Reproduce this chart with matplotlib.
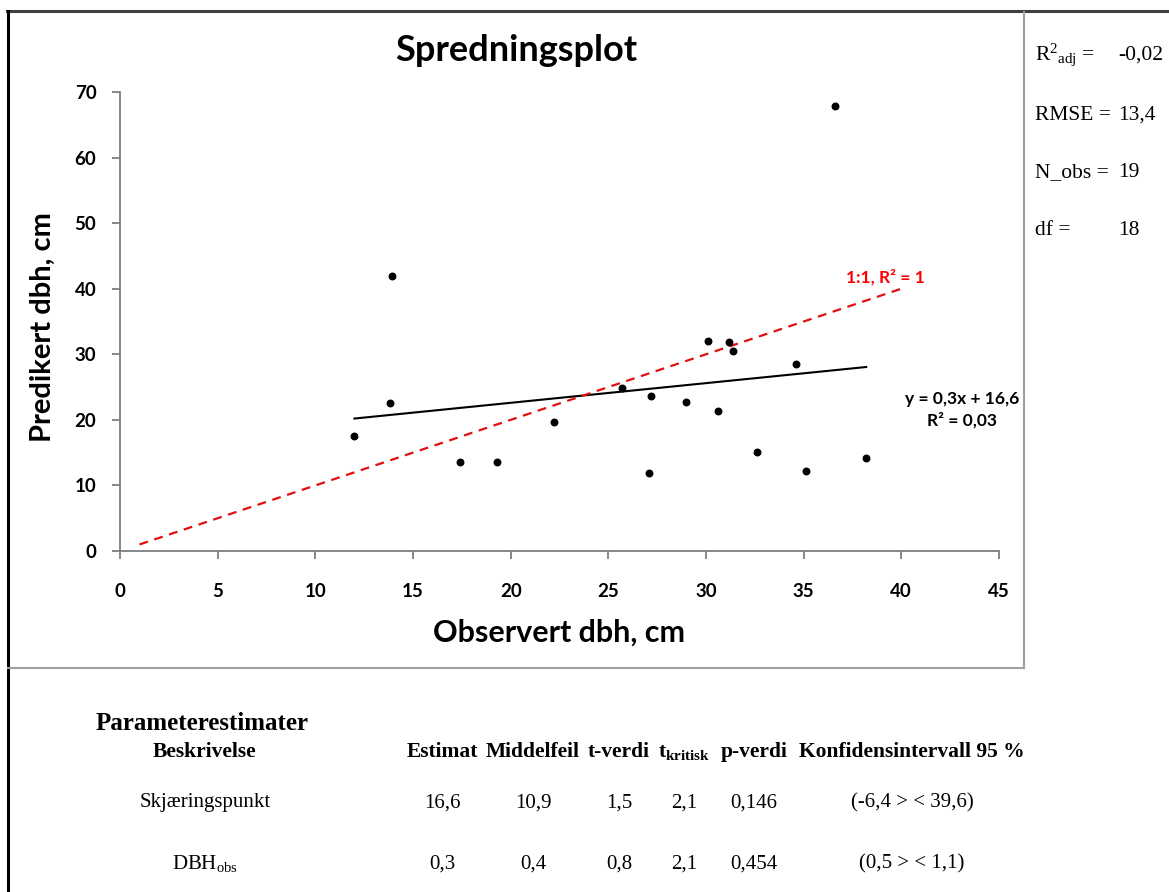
import matplotlib.pyplot as plt
from matplotlib.lines import Line2D
import numpy as np

plt.rcParams["mathtext.default"] = "regular"

# observed vs predicted dbh (cm)
observert = [13.9, 13.8, 12.0, 17.4, 19.3, 22.2, 25.7, 27.2, 29.0, 30.6,
             30.1, 31.2, 31.4, 34.6, 36.6, 32.6, 27.1, 35.1, 38.2]
predikert = [41.9, 22.5, 17.5, 13.5, 13.5, 19.7, 24.8, 23.7, 22.7, 21.4,
             32.0, 31.9, 30.5, 28.5, 67.8, 15.1, 11.9, 12.2, 14.2]

stigning = 0.3
skjaering = 16.6
en_til_en = [1, 40]

statistikk = [("R$^2$$_{adj}$ =", "-0,02"), ("RMSE =", "13,4"),
              ("N_obs =", "19"), ("df =", "18")]

kolonner = ["Estimat", "Middelfeil", "t-verdi", "t$_{kritisk}$", "p-verdi",
            "Konfidensintervall 95 %"]
rader = ["Skjæringspunkt", "DBH$_{obs}$"]
verdier = [["16,6", "10,9", "1,5", "2,1", "0,146", "(-6,4 > < 39,6)"],
           ["0,3", "0,4", "0,8", "2,1", "0,454", "(0,5 > < 1,1)"]]

W, H = 1169, 892
fig = plt.figure(figsize=(W / 100, H / 100), dpi=100)
fig.patch.set_facecolor("white")


def fx(px):
    return px / W


def fy(py):
    return 1 - py / H


# frame lines
fig.add_artist(Line2D([fx(7), fx(W)], [fy(11), fy(11)], color="#404040", lw=2.2))
fig.add_artist(Line2D([fx(8), fx(8)], [fy(11), fy(H)], color="black", lw=2.2))
fig.add_artist(Line2D([fx(1024), fx(1024)], [fy(12), fy(668)], color="#a0a0a0", lw=1.5))
fig.add_artist(Line2D([fx(8), fx(1024)], [fy(668), fy(668)], color="#a0a0a0", lw=1.5))

ax = fig.add_axes([fx(120), fy(551), fx(999) - fx(120), fy(92) - fy(551)])

ax.scatter(observert, predikert, s=22, color="black", zorder=3)

xr = np.array([min(observert), max(observert)])
ax.plot(xr, stigning * xr + skjaering, color="black", lw=1.5)
ax.plot(en_til_en, en_til_en, color="#e01010", lw=1.6, dashes=(4, 3))

ax.text(39.2, 41.8, "1:1, R² = 1", color="#ff0000", fontsize=12.5,
        fontweight="bold", family="Lato", ha="center", va="center")
ax.text(43.1, 21.5, "y = 0,3x + 16,6\nR² = 0,03", color="black", fontsize=12.5,
        fontweight="bold", family="Lato", ha="center", va="center",
        linespacing=1.4)

ax.set_xlim(0, 45)
ax.set_ylim(0, 70)
ax.set_xticks(np.arange(0, 46, 5))
ax.set_yticks(np.arange(0, 71, 10))
for s in ["top", "right"]:
    ax.spines[s].set_visible(False)
for s in ["left", "bottom"]:
    ax.spines[s].set_color("#7f7f7f")
    ax.spines[s].set_linewidth(1.3)
ax.tick_params(axis="both", direction="out", length=6, width=1.3, color="#7f7f7f")
ax.tick_params(axis="x", pad=17)
ax.tick_params(axis="y", pad=11)
for lab in ax.get_xticklabels() + ax.get_yticklabels():
    lab.set_fontfamily("Lato")
    lab.set_fontweight("bold")
    lab.set_fontsize(13.5)

ax.set_title("Spredningsplot", fontsize=26, fontweight="bold", family="Lato",
             x=(516 - 120) / 879, y=1.05)
ax.set_xlabel("Observert dbh, cm", fontsize=22, fontweight="bold", family="Lato")
ax.set_ylabel("Predikert dbh, cm", fontsize=21, fontweight="bold", family="Lato")
ax.xaxis.set_label_coords(0.5, (551 - 619) / 459)
ax.yaxis.set_label_coords((56 - 120) / 879, (551 - 327) / 459)

# fit statistics panel
for (lab, val), yb in zip(statistikk, [60, 120, 177, 235]):
    fig.text(fx(1035), fy(yb), lab, family="Liberation Serif", fontsize=15.5,
             va="baseline")
    fig.text(fx(1118), fy(yb), val, family="Liberation Serif", fontsize=15.5,
             va="baseline")

# parameter table
fig.text(fx(96), fy(723), "Parameterestimater", family="Liberation Serif",
         fontsize=18, fontweight="bold", va="center")
fig.text(fx(205), fy(752), "Beskrivelse", family="Liberation Serif",
         fontsize=15.5, fontweight="bold", ha="center", va="center")
kol_x = [442, 533, 619, 684, 754, 912]
for k, x in zip(kolonner, kol_x):
    fig.text(fx(x), fy(752), k, family="Liberation Serif", fontsize=15.5,
             fontweight="bold", ha="center", va="center")
for r, rad, y in zip(rader, verdier, [803, 864]):
    fig.text(fx(205), fy(y), r, family="Liberation Serif", fontsize=15,
             ha="center", va="center")
    for v, x in zip(rad, kol_x):
        fig.text(fx(x), fy(y), v, family="Liberation Serif", fontsize=15,
                 ha="center", va="center")

fig.savefig("out.png", dpi=100)
